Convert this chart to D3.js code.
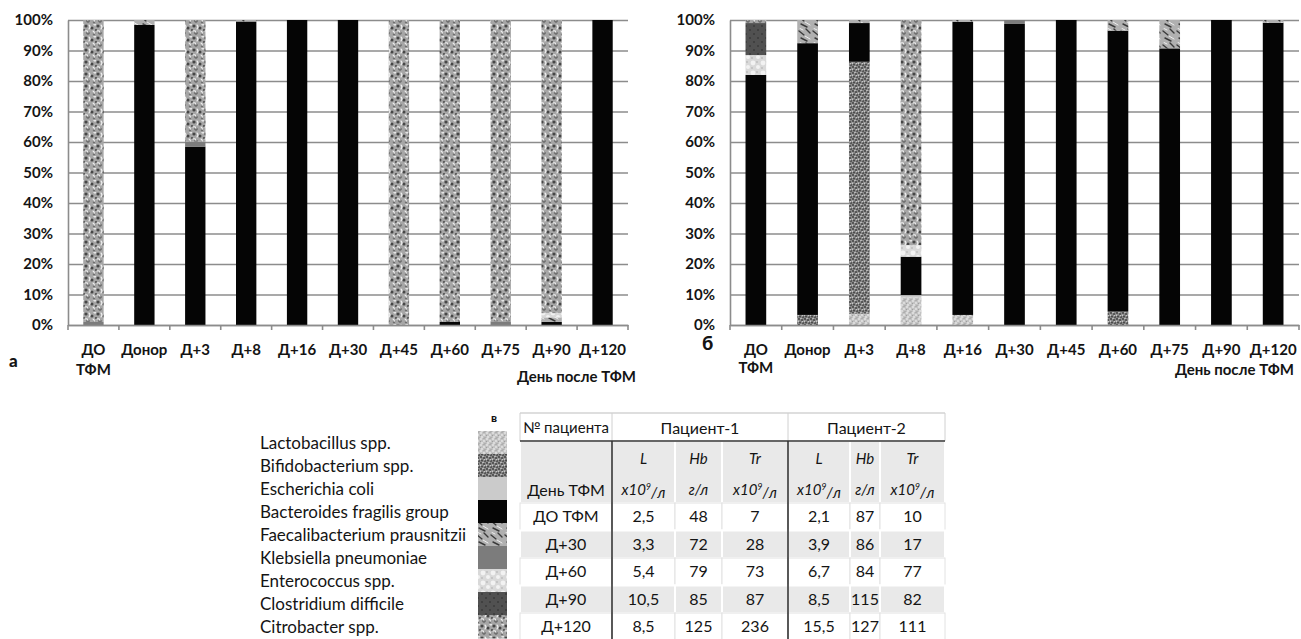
<!DOCTYPE html>
<html><head><meta charset="utf-8">
<script src="https://cdn.jsdelivr.net/npm/d3@7"></script>
<style>
body{margin:0;background:#fff}
svg{display:block}
text{font-family:Lato,"Open Sans",sans-serif;fill:#141414}
</style>
</head><body>
<svg id="c" width="1301" height="639"></svg>
<script>
// ---------- data ----------
const days = ["ДО ТФМ","Донор","Д+3","Д+8","Д+16","Д+30","Д+45","Д+60","Д+75","Д+90","Д+120"];
const speciesNames = ["Lactobacillus spp.","Bifidobacterium spp.","Escherichia coli","Bacteroides fragilis group",
  "Faecalibacterium prausnitzii","Klebsiella pneumoniae","Enterococcus spp.","Clostridium difficile","Citrobacter spp."];
const yTicks = [0,10,20,30,40,50,60,70,80,90,100];

// chart а (patient 1), % of flora per day
const a_lacto        = [0,0,0,0,0,0,0,0,0,0,0];
const a_bifido       = [0,0,0,0,0,0,0,0,0,0,0];
const a_ecoli        = [0,0,0,0,0,0,0,0,0,0,0];
const a_bacteroides  = [0,98.4,58.5,99.5,100,100,0,1,0,1,100];
const a_faecali      = [0,1.6,0,0.5,0,0,0,0,0,1.5,0];
const a_klebsiella   = [1,0,1.6,0,0,0,0,0,1.2,0,0];
const a_enterococcus = [0,0,0,0,0,0,0,0,0,1.4,0];
const a_clostridium  = [0,0,0,0,0,0,0,0,0,0,0];
const a_citrobacter  = [99,0,39.9,0,0,0,100,99,98.8,96.1,0];

// chart б (patient 2)
const b_lacto        = [0,0,3.7,9,3.3,0,0,0,0,0,0];
const b_bifido       = [0,3.3,82.6,0,0,0,0,4.4,0,0,0];
const b_ecoli        = [0,0,0,0.8,0,0,0,0,0,0,0];
const b_bacteroides  = [82,89.1,12.7,12.6,96.1,98.7,100,92.1,90.7,100,99.1];
const b_faecali      = [0,7.6,1.0,0,0.6,0,0,3.5,9.3,0,0.9];
const b_klebsiella   = [0,0,0,0,0,1.3,0,0,0,0,0];
const b_enterococcus = [6.5,0,0,3.8,0,0,0,0,0,0,0];
const b_clostridium  = [10.5,0,0,0,0,0,0,0,0,0,0];
const b_citrobacter  = [1,0,0,73.8,0,0,0,0,0,0,0];

// table в
const tableDays = ["ДО ТФМ","Д+30","Д+60","Д+90","Д+120"];
const p1_L  = ["2,5","3,3","5,4","10,5","8,5"];
const p1_Hb = ["48","72","79","85","125"];
const p1_Tr = ["7","28","73","87","236"];
const p2_L  = ["2,1","3,9","6,7","8,5","15,5"];
const p2_Hb = ["87","86","84","115","127"];
const p2_Tr = ["10","17","77","82","111"];

// ---------- drawing ----------
const svg = d3.select("#c");
const defs = svg.append("defs");
const keys = ["lacto","bifido","ecoli","bacteroides","faecali","klebsiella","enterococcus","clostridium","citrobacter"];

function pat(id,w,h,bg,draw){
  const p = defs.append("pattern").attr("id",id).attr("patternUnits","userSpaceOnUse")
    .attr("width",w).attr("height",h);
  p.append("rect").attr("width",w).attr("height",h).attr("fill",bg);
  if(draw) draw(p);
}
function dots(p,list,r,fill){ list.forEach(d=>p.append("circle").attr("cx",d[0]).attr("cy",d[1]).attr("r",d[2]||r).attr("fill",fill)); }
function strokes(p,list,col,w){ list.forEach(d=>p.append("path").attr("d",d).attr("stroke",col).attr("stroke-width",w).attr("fill","none").attr("stroke-linecap","round")); }

pat("p-lacto",6,6,"#c3c3c3",p=>{dots(p,[[1,1],[4,3],[2,5]],0.9,"#e8e8e8");dots(p,[[4,0.5],[0.5,3.5],[5,5.5]],0.6,"#9c9c9c");});
pat("p-bifido",6,6,"#8a8a8a",p=>{dots(p,[[1,1],[4,2],[2,4.5],[5,5]],0.9,"#3e3e3e");dots(p,[[3,0.5],[0.5,3.3],[4.5,3.8]],0.7,"#d0d0d0");});
pat("p-ecoli",4,4,"#cbcbcb");
pat("p-bact",4,4,"#050505");
pat("p-faecali",14,14,"#b0b0b0",p=>{strokes(p,["M1,3 L6,7","M8,1 L12,5","M3,10 L9,13"],"#3a3a3a",1.4);strokes(p,["M7,8 L12,11","M2,0.5 L5,2"],"#eeeeee",1);});
pat("p-kleb",4,4,"#7c7c7c");
pat("p-entero",10,10,"#d9d9d9",p=>{dots(p,[[3,3,2.4],[8,7,2]],2,"#f2f2f2");dots(p,[[7,2],[2,8]],0.9,"#bcbcbc");});
pat("p-clost",8,8,"#515151",p=>{dots(p,[[2,2],[6,6]],1,"#3a3a3a");});
pat("p-citro",12,12,"#a6a6a6",p=>{
  dots(p,[[2,2,1.6],[8,4,1.5],[4,9,1.6],[10,10,1.2],[0,6,1.0],[12,6,1.0]],1,"#474747");
  strokes(p,["M5,1 q2,2 0,4","M1,7 q3,-1 3,2","M9,7 q2,1 1,3","M10,0.5 q1,1 2,0"],"#f0f0f0",1.1);
});
const patId = ["p-lacto","p-bifido","p-ecoli","p-bact","p-faecali","p-kleb","p-entero","p-clost","p-citro"];

function drawChart(series, x0, x1, opts){
  const rows = days.map((d,i)=>{const o={day:d}; keys.forEach((k,j)=>o[k]=series[j][i]); return o;});
  const stack = d3.stack().keys(keys)(rows);
  const y = d3.scaleLinear().domain([0,100]).range([325,20]);
  const x = d3.scaleBand().domain(days).range([x0,x1]).paddingInner(0.6).paddingOuter(0.3);
  const g = svg.append("g");
  // gridlines
  g.append("g").attr("transform",`translate(${x0},0)`)
    .call(d3.axisLeft(y).tickValues(yTicks).tickSize(-(x1-x0)).tickFormat(""))
    .call(s=>s.select(".domain").remove())
    .call(s=>s.selectAll("line").attr("stroke","#8c8c8c").attr("stroke-width",1.6));
  // bars
  stack.forEach((layer,li)=>{
    g.append("g").attr("fill",`url(#${patId[li]})`)
      .selectAll("rect").data(layer.filter(d=>d[1]-d[0]>0)).join("rect")
      .attr("x",d=>x(d.data.day)).attr("width",x.bandwidth())
      .attr("y",d=>y(d[1])).attr("height",d=>y(d[0])-y(d[1]));
  });
  // y axis
  g.append("g").attr("transform",`translate(${x0},0)`)
    .call(d3.axisLeft(y).tickValues(yTicks).tickSize(0).tickPadding(15).tickFormat(d=>d+"%"))
    .call(s=>s.select(".domain").attr("stroke","#8c8c8c").attr("stroke-width",1.6))
    .call(s=>s.selectAll("text").attr("font-size",15).attr("font-weight",700).attr("fill","#1a1a1a"));
  // x axis
  g.append("g").attr("transform","translate(0,325)")
    .call(d3.axisBottom(x).tickSize(0).tickFormat(""))
    .call(s=>s.select(".domain").attr("stroke","#8c8c8c").attr("stroke-width",1.6));
  const bounds = d3.range(days.length+1).map(i=>x0+i*x.step());
  g.selectAll(".btick").data(bounds).join("line")
    .attr("x1",d=>d).attr("x2",d=>d).attr("y1",325).attr("y2",330)
    .attr("stroke","#8c8c8c").attr("stroke-width",1.6);
  const lab = g.selectAll(".xl").data(days).join("text")
    .attr("text-anchor","middle").attr("font-size",15).attr("font-weight",700).attr("fill","#1a1a1a");
  lab.each(function(d){
    const parts = d==="ДО ТФМ" ? ["ДО","ТФМ"] : [d];
    const cx = x(d)+x.bandwidth()/2;
    parts.forEach((p,i)=>d3.select(this).append("tspan").attr("x",cx).attr("y",355+i*opts.lineGap).text(p));
  });
  g.append("text").attr("x",x1+opts.titleDx).attr("y",opts.titleY).attr("text-anchor","end")
    .attr("font-size",15).attr("font-weight",700).attr("fill","#1a1a1a").text("День после ТФМ");
  g.append("text").attr("x",opts.letterX).attr("y",opts.letterY).attr("font-size",opts.letterSize)
    .attr("font-weight",900).attr("fill","#111").text(opts.letter);
}

drawChart([a_lacto,a_bifido,a_ecoli,a_bacteroides,a_faecali,a_klebsiella,a_enterococcus,a_clostridium,a_citrobacter],
  68, 628, {lineGap:20, titleY:382, titleDx:8, letter:"а", letterX:9, letterY:367, letterSize:17});
drawChart([b_lacto,b_bifido,b_ecoli,b_bacteroides,b_faecali,b_klebsiella,b_enterococcus,b_clostridium,b_citrobacter],
  730, 1299, {lineGap:18, titleY:375, titleDx:-5, letter:"б", letterX:702, letterY:350, letterSize:19});

// ---------- legend ----------
const leg = svg.append("g");
const swY = d3.scaleBand().domain(speciesNames).range([431, 431+23*9]);
leg.selectAll("rect").data(speciesNames).join("rect")
  .attr("x",478).attr("width",29).attr("y",d=>swY(d)).attr("height",swY.bandwidth()+0.5)
  .attr("fill",(d,i)=>`url(#${patId[i]})`);
leg.selectAll("text").data(speciesNames).join("text")
  .attr("x",260).attr("y",d=>swY(d)+swY.bandwidth()/2+1).attr("dy","0.35em")
  .attr("font-size",17).attr("fill","#1a1a1a").text(d=>d);
svg.append("text").attr("x",491).attr("y",422).attr("font-size",12).attr("font-weight",900).text("в");

// ---------- table ----------
const tb = svg.append("g");
const colX = [520,612,675,722,788,850,880,945];
const colC = colX.slice(0,-1).map((v,i)=>(v+colX[i+1])/2);
const rowY = d3.scaleBand().domain(tableDays).range([503,503+27.5*5]);
// header row 2 background
tb.selectAll(".h2").data(d3.range(7)).join("rect")
  .attr("x",i=>colX[i]).attr("width",i=>colX[i+1]-colX[i]).attr("y",441).attr("height",62)
  .attr("fill","#e9e9e9").attr("stroke","#fff").attr("stroke-width",2);
// data rows
const cols = [tableDays,p1_L,p1_Hb,p1_Tr,p2_L,p2_Hb,p2_Tr];
tableDays.forEach((day,r)=>{
  const shaded = r%2===1;
  cols.forEach((col,c)=>{
    tb.append("rect").attr("x",colX[c]).attr("width",colX[c+1]-colX[c])
      .attr("y",rowY(day)).attr("height",rowY.bandwidth())
      .attr("fill",shaded?"#e9e9e9":"#fff").attr("stroke",shaded?"#fff":"#e2e2e2").attr("stroke-width",shaded?2:1);
    tb.append("text").attr("x",colC[c]).attr("y",rowY(day)+rowY.bandwidth()/2).attr("dy","0.35em")
      .attr("text-anchor","middle").attr("font-size",16).attr("fill","#141414").text(col[r]);
  });
});
// header row 1
tb.append("line").attr("x1",520).attr("x2",945).attr("y1",413).attr("y2",413).attr("stroke","#bdbdbd");
[520,612,788,945].forEach(x=>tb.append("line").attr("x1",x).attr("x2",x).attr("y1",413).attr("y2",441).attr("stroke","#d0d0d0"));
tb.append("text").attr("x",colC[0]).attr("y",428).attr("dy","0.35em").attr("text-anchor","middle").attr("font-size",15).text("№ пациента");
tb.append("text").attr("x",(colX[1]+colX[4])/2).attr("y",428).attr("dy","0.35em").attr("text-anchor","middle").attr("font-size",16).text("Пациент-1");
tb.append("text").attr("x",(colX[4]+colX[7])/2).attr("y",428).attr("dy","0.35em").attr("text-anchor","middle").attr("font-size",16).text("Пациент-2");
// header row 2 texts
const hdr1 = ["L","Hb","Tr","L","Hb","Tr"];
const hdr2 = ["x10|9|/л","г/л","x10|9|/л","x10|9|/л","г/л","x10|9|/л"];
hdr1.forEach((t,i)=>tb.append("text").attr("x",colC[i+1]).attr("y",459).attr("dy","0.35em")
  .attr("text-anchor","middle").attr("font-size",15).attr("font-style","italic").text(t));
hdr2.forEach((t,i)=>{
  const el = tb.append("text").attr("x",colC[i+1]).attr("y",490).attr("dy","0.35em")
    .attr("text-anchor","middle").attr("font-size",15).attr("font-style","italic");
  const p = t.split("|");
  el.append("tspan").text(p[0]);
  if(p.length>1){
    el.append("tspan").attr("font-size",9).attr("dy","-0.6em").text(p[1]);
    el.append("tspan").attr("font-size",15).attr("dy","0.55em").text(p[2]);
  }
});
tb.append("text").attr("x",colC[0]).attr("y",490).attr("dy","0.35em").attr("text-anchor","middle").attr("font-size",16).text("День ТФМ");
// strong lines
tb.append("line").attr("x1",520).attr("x2",945).attr("y1",441).attr("y2",441).attr("stroke","#333").attr("stroke-width",1.6);
[612,788].forEach(x=>tb.append("line").attr("x1",x).attr("x2",x).attr("y1",441).attr("y2",639).attr("stroke","#333").attr("stroke-width",1.6));
</script>
</body></html>
